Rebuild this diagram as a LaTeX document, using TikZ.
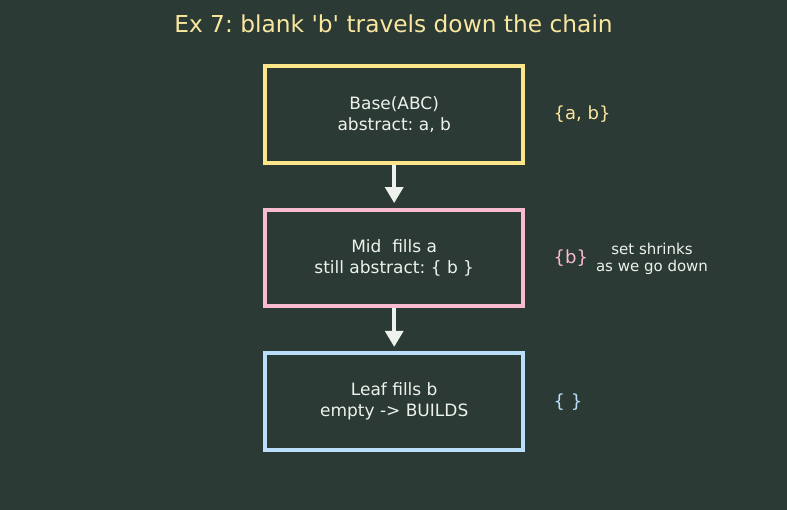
\documentclass[tikz,border=0pt]{standalone}
\usepackage{fontspec}
\setmainfont{DejaVu Sans}[Ligatures=TeXOff]
\usetikzlibrary{arrows.meta}
\definecolor{bg}{HTML}{2B3A34}
\definecolor{titlec}{HTML}{F9E79F}
\definecolor{yel}{HTML}{FDE68A}
\definecolor{pnk}{HTML}{F8BBD0}
\definecolor{blu}{HTML}{BBDEFB}
\definecolor{txt}{HTML}{EEF2EC}
\frenchspacing
\tikzset{
  box/.style={draw, line width=4pt, minimum width=257.7pt, minimum height=96.7pt,
    align=center, text=txt, font=\fontsize{17}{21}\selectfont, inner sep=0pt},
  flow/.style={draw=txt, line width=3.5pt, -{Triangle[length=16pt,width=18pt]}, shorten >=4.5pt},
  setlab/.style={anchor=west, font=\fontsize{18}{21}\selectfont, inner sep=0pt},
  note/.style={align=center, text=txt, font=\fontsize{15}{17}\selectfont, inner sep=0pt}
}
\begin{document}
\begin{tikzpicture}[x=1pt,y=-1pt]
\fill[bg] (0,0) rectangle (787,510);
\useasboundingbox (0,0) rectangle (787,510);
\node[text=titlec, font=\fontsize{23.3}{28}\selectfont, inner sep=0pt] (title) at (393.5,24) {Ex 7: blank 'b' travels down the chain};
\node[box, draw=yel] (base) at (394.2,114.7) {Base(ABC)\\abstract: a, b};
\node[box, draw=pnk] (mid) at (394.2,257.9) {Mid~ fills a\\still abstract: \{ b \}};
\node[box, draw=blu] (leaf) at (394.2,401.7) {Leaf fills b\\empty -> BUILDS};
\draw[flow] (base) -- (mid);
\draw[flow] (mid) -- (leaf);
\node[setlab, text=titlec] (s1) at (553.5,114.5) {\{a, b\}};
\node[setlab, text=pnk] (s2) at (553.5,258.5) {\{b\}};
\node[setlab, text=blu] (s3) at (553.5,402) {\{ \}};
\node[note] (n) at (652,258.5) {set shrinks\\as we go down};
\end{tikzpicture}
\end{document}
